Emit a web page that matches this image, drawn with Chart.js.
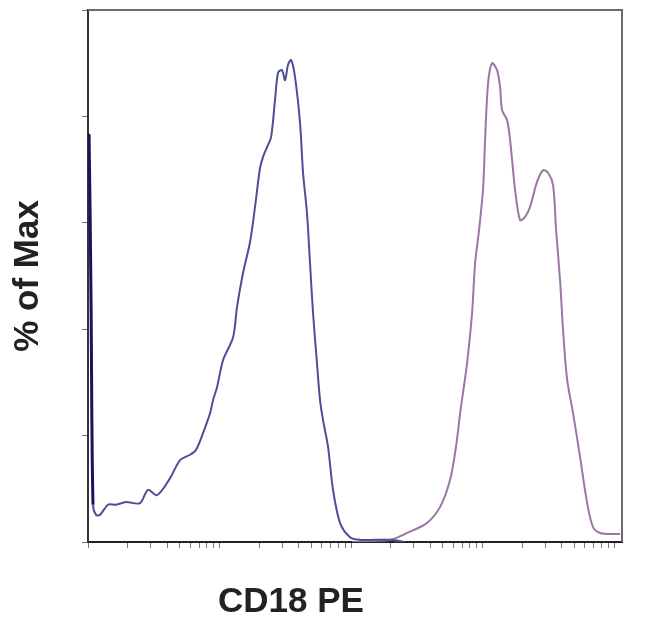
<!DOCTYPE html>
<html>
<head>
<meta charset="utf-8">
<script src="https://cdn.jsdelivr.net/npm/chart.js@4.4.1/dist/chart.umd.min.js"></script>
<style>
  html, body { margin: 0; padding: 0; background: #fff; }
  #wrap { width: 650px; height: 630px; }
</style>
</head>
<body>
<div id="wrap"><canvas id="histChart" width="650" height="630"></canvas></div>
<script>
// x values are log10(CD18 PE intensity), y values are % of Max
const unstainedX = [1.000, 1.008, 1.023, 1.038, 1.061, 1.091, 1.152, 1.213, 1.289, 1.395, 1.456, 1.525, 1.624, 1.700, 1.776, 1.821, 1.875, 1.928, 1.951, 1.981, 2.027, 2.103, 2.133, 2.179, 2.232, 2.270, 2.308, 2.331, 2.361, 2.392, 2.422, 2.445, 2.475, 2.498, 2.521, 2.544, 2.574, 2.612, 2.635, 2.665, 2.688, 2.711, 2.741, 2.764, 2.787, 2.825, 2.863, 2.916, 2.992, 3.068, 3.183, 3.297, 3.411];
const unstainedY = [76.5, 76.5, 45.5, 7.0, 5.1, 5.1, 7.0, 7.0, 7.5, 7.3, 9.8, 8.8, 12.0, 15.4, 16.4, 17.3, 20.5, 24.2, 26.7, 29.1, 34.2, 38.5, 44.2, 50.6, 56.4, 63.0, 70.3, 72.4, 74.2, 76.1, 83.1, 88.2, 88.7, 86.8, 89.7, 90.6, 87.4, 78.8, 69.4, 61.8, 52.4, 43.0, 33.6, 26.7, 22.9, 17.9, 9.8, 3.6, 0.9, 0.4, 0.4, 0.4, 0];

const cd18X = [3.008, 3.144, 3.297, 3.426, 3.578, 3.677, 3.753, 3.798, 3.829, 3.852, 3.882, 3.920, 3.943, 3.973, 4.004, 4.019, 4.042, 4.072, 4.110, 4.133, 4.148, 4.186, 4.209, 4.247, 4.285, 4.323, 4.361, 4.414, 4.460, 4.498, 4.536, 4.559, 4.589, 4.612, 4.643, 4.688, 4.741, 4.795, 4.840, 4.894, 4.992, 5.046];
const cd18Y = [0, 0.2, 0.4, 1.7, 3.6, 6.6, 11.7, 17.9, 24.2, 28.2, 33.6, 43.0, 52.4, 58.6, 66.5, 75.6, 86.3, 90.0, 88.7, 85.5, 81.2, 79.3, 75.6, 66.2, 60.5, 61.1, 63.0, 67.7, 69.9, 69.4, 67.1, 58.6, 49.2, 39.8, 30.5, 24.2, 16.0, 7.3, 2.8, 1.7, 1.5, 1.5];

const xDecades = [10, 100, 1000, 10000, 100000];
const xMinorSteps = [1, 2, 3, 4, 5, 6, 7, 8, 9];
const yTicks = [0, 20, 40, 60, 80, 100];

const xMin = 1;
const xMax = 5.06;

const xTickValues = [];
xDecades.forEach(d => {
    xMinorSteps.forEach(s => {
        const v = Math.log10(d * s);
        if (v >= xMin && v <= xMax) xTickValues.push(v);
    });
});

const toPoints = (xs, ys) => xs.map((x, i) => ({ x: x, y: ys[i] }));

// frame on top/right plus x axis title (sits left of centre in the original)
const framePlugin = {
    id: "frame",
    afterDraw(chart) {
        const { ctx, chartArea } = chart;
        ctx.save();
        ctx.strokeStyle = "#6b6b6b";
        ctx.lineWidth = 2;
        ctx.beginPath();
        ctx.moveTo(chartArea.left, chartArea.top);
        ctx.lineTo(chartArea.right, chartArea.top);
        ctx.lineTo(chartArea.right, chartArea.bottom);
        ctx.stroke();

        ctx.fillStyle = "#222";
        ctx.font = "bold 35px 'Liberation Sans', Arial, sans-serif";
        ctx.textAlign = "center";
        ctx.textBaseline = "middle";
        ctx.fillText("CD18 PE", 291, 602);
        ctx.restore();
    },
};

new Chart(document.getElementById("histChart"), {
    type: "line",
    data: {
        datasets: [
            {
                label: "Unstained",
                data: toPoints(unstainedX, unstainedY),
                borderColor: "#4e4e98",
                borderWidth: 2,
                pointRadius: 0,
                tension: 0.3,
                fill: false,
                segment: {
                    borderColor: ctx => (ctx.p0.parsed.x < 1.03 ? "#161660" : undefined),
                    borderWidth: ctx => (ctx.p0.parsed.x < 1.03 ? 3 : undefined),
                },
            },
            {
                label: "CD18 PE",
                data: toPoints(cd18X, cd18Y),
                borderColor: "#9a76a6",
                borderWidth: 2,
                pointRadius: 0,
                tension: 0.3,
                fill: false,
            },
        ],
    },
    options: {
        responsive: false,
        animation: false,
        layout: {
            padding: { top: 10, right: 28, left: 0, bottom: 0 },
        },
        plugins: {
            legend: { display: false },
            tooltip: { enabled: false },
        },
        scales: {
            x: {
                type: "linear",
                min: xMin,
                max: xMax,
                afterBuildTicks: scale => {
                    scale.ticks = xTickValues.map(v => ({ value: v }));
                },
                afterFit: scale => {
                    scale.height = 88;
                },
                ticks: { display: false },
                grid: {
                    drawOnChartArea: false,
                    drawTicks: true,
                    tickLength: 6,
                    tickColor: "#777",
                    tickWidth: 1,
                },
                border: { color: "#222", width: 2 },
            },
            y: {
                min: 0,
                max: 100,
                afterBuildTicks: scale => {
                    scale.ticks = yTicks.map(v => ({ value: v }));
                },
                afterFit: scale => {
                    scale.width = 88;
                },
                ticks: { display: false },
                grid: {
                    drawOnChartArea: false,
                    drawTicks: true,
                    tickLength: 6,
                    tickColor: "#777",
                    tickWidth: 1,
                },
                border: { color: "#333", width: 2 },
                title: {
                    display: true,
                    text: "% of Max",
                    color: "#222",
                    font: { family: "'Liberation Sans', Arial, sans-serif", size: 35, weight: "bold" },
                    padding: { top: 7, bottom: 0 },
                },
            },
        },
    },
    plugins: [framePlugin],
});
</script>
</body>
</html>
